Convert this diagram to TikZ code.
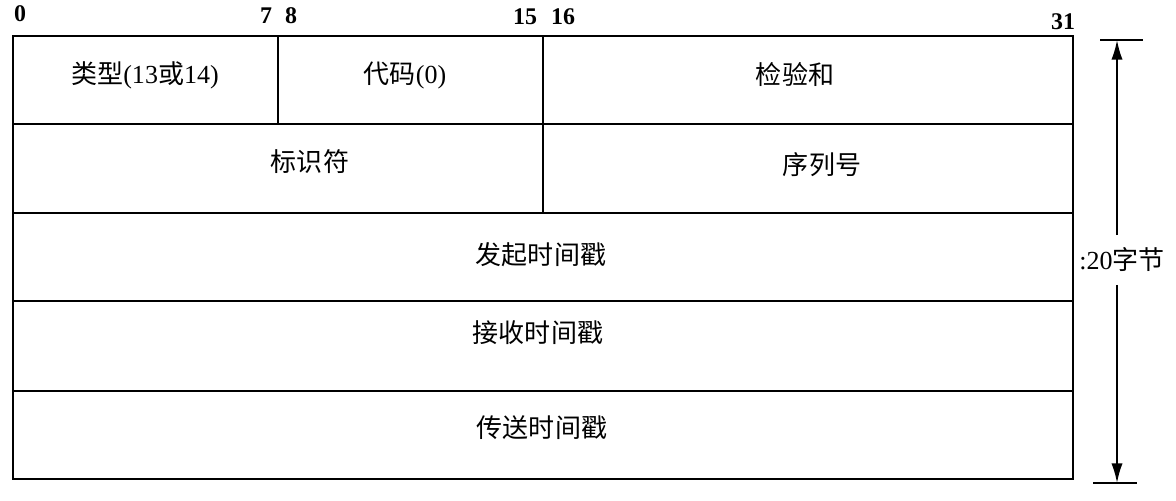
\documentclass[tikz,border=0pt]{standalone}
\usepackage{fontspec}
\setmainfont{Liberation Serif}
\newfontfamily\cjk{Noto Sans CJK SC}
\usetikzlibrary{arrows.meta}
\newcommand{\zh}[1]{{\cjk #1}}

\begin{document}
\begin{tikzpicture}[x=0.025cm,y=-0.025cm,
	frame line/.style={line width=1.3pt},
	field text/.style={font=\fontsize{18.5}{22}\selectfont, inner sep=0pt},
	bit label/.style={font=\bfseries\fontsize{17}{20}\selectfont, inner sep=0pt}]
			\useasboundingbox (0,0) rectangle (1176,500);
			% Frame and rows
			\draw[frame line] (13,36) rectangle (1073,479);
			\foreach \y in {124,213,301,391}
			\draw[frame line] (13,\y) -- (1073,\y);
			\draw[frame line] (278,36) -- (278,124);
			\draw[frame line] (543,36) -- (543,213);
			
			% Bit numbers
			\foreach \t/\x/\y in {0/20/14, 7/266/16, 8/291/16, 15/525/17, 16/563/17, 31/1063/22}
			\node[bit label] (b\t) at (\x,\y) {\t};
			
			% Fields
			\node[field text] (type) at (145,75) {\zh{类型}(13\zh{或}14)};
			\node[field text] (code) at (405,75) {\zh{代码}(0)};
			\node[field text] (sum) at (795,75) {\zh{检验和}};
			\node[field text] (ident) at (310,162) {\zh{标识符}};
			\node[field text] (seq) at (822,165) {\zh{序列号}};
			\node[field text] (orig) at (541,255) {\zh{发起时间戳}};
			\node[field text] (recv) at (538,333) {\zh{接收时间戳}};
			\node[field text] (send) at (542,428) {\zh{传送时间戳}};
			
			% Length
			\coordinate (top) at (1117,40);
			\coordinate (bot) at (1117,483);
			\node[field text, inner ysep=9pt] (len) at (1122,260) {:20\zh{字节}};
			\draw[frame line] (1100,40) -- (1143,40);
			\draw[frame line] (1093,483) -- (1137,483);
			\draw[line width=1.3pt, -{Latex[length=14pt,width=8pt]}] (len.north -| top) -- (top);
			\draw[line width=1.3pt, -{Latex[length=14pt,width=8pt]}] (len.south -| bot) -- (bot);
			
		\end{tikzpicture}
\end{document}
